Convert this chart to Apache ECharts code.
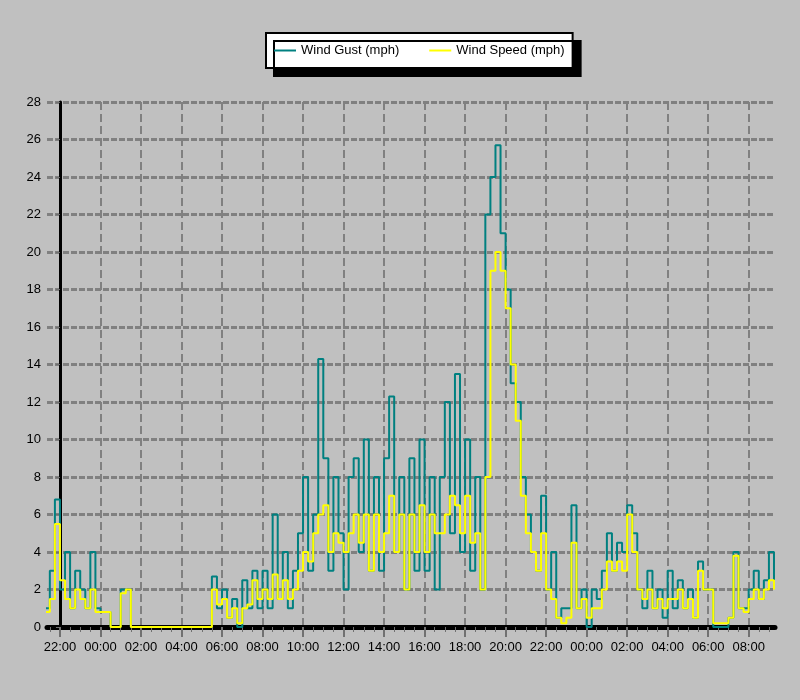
<!DOCTYPE html>
<html><head><meta charset="utf-8">
<script src="https://cdn.jsdelivr.net/npm/echarts@6/dist/echarts.min.js"></script>
<style>html,body{margin:0;padding:0;background:#c0c0c0}#c{width:800px;height:700px}</style>
</head><body><div id="c"></div>
<script>
// Time base: hours relative to 22:00 of the first day, 15-minute samples
const startHour = -0.75;
const stepHours = 0.25;
const windGust = [
 1,3,6.8,
 2,4,1,3,  2,1,4,1,  0.8,0.8,0,0,  2,2,0,0,
 0,0,0,0,  0,0,0,0,  0,0,0,0,  0,0,2.7,1,
 2,0.5,1.5,0,  2.5,1,3,1,  3,1,6,1.5,  4,1,3,5,
 8,3,6,14.3,  9,3,8,5,  2,8,9,4,  10,3,8,3,
 9,12.3,4,8,  2,9,3,10,  3,8,2,8,  12,5,13.5,4,
 10,3,8,2,  22,24,25.7,21,  18,13,12,8,  6,4,3,7,
 2,4,0.5,1,  1,6.5,1,2,  0,2,1.5,3,  5,3,4.5,4,
 6.5,5,2,1,  3,1,2,0.5,  3,1,2.5,1,  2,0.5,3.5,2,
 2,0,0,0,  0.5,4,1,1,  2,3,1.5,2.5,  4,2.5
];
const windSpeed = [
 0.8,1.5,5.5,
 2.5,1.5,1,2,  1.5,1,2,0.8,  0.8,0.8,0,0,  1.8,2,0,0,
 0,0,0,0,  0,0,0,0,  0,0,0,0,  0,0,2,1.2,
 1.5,0.5,1,0.2,  1,1.2,2.5,1.5,  2,1.5,2.8,1.5,  2.5,1.5,2,3,
 4,3.5,5,6,  6.5,4,5,4.5,  4,5,6,4.5,  6,3,6,4,
 5,7,4,6,  2,6,4,6.5,  4,6,5,5,  6,7,6.5,5,
 7,4.5,5,2,  8,19,20,19,  17,14,11,7,  5,4,3,5,
 2,1.5,0.5,0.2,  0.5,4.5,1,1.5,  0.5,1,1,2,  3.5,3,3.5,3,
 6,4,2,1.5,  2,1,1.5,1,  1.5,1.5,2,1,  1.5,0.5,3,2,
 2,0.2,0.2,0.2,  0.5,3.8,1,0.8,  1.5,2,1.5,2,  2.5,2
];
const seriesNames = ['Wind Gust (mph)', 'Wind Speed (mph)'];
const tickHours = [0,2,4,6,8,10,12,14,16,18,20,22,24,26,28,30,32,34];
const minorHours = [];
for (let h = -0.5; h < 35.3; h += 0.5) minorHours.push(h);

const toH = i => startHour + i*stepHours;
const gustData = windGust.map((v,i)=>[toH(i), v]);
const speedData = windSpeed.map((v,i)=>[toH(i), v]);
const fmt = h => { const hh = ((22 + h) % 24 + 24) % 24; return (hh<10?'0':'')+hh+':00'; };

const chart = echarts.init(document.getElementById('c'));
chart.setOption({
  backgroundColor:'#c0c0c0',
  animation:false,
  legend:{
    left:266, top:33, itemGap:30, padding:[11,8],
    backgroundColor:'#fff', borderColor:'#000', borderWidth:2,
    shadowColor:'#000', shadowOffsetX:8, shadowOffsetY:8, shadowBlur:0,
    itemWidth:22, itemHeight:2, icon:'rect',
    textStyle:{fontFamily:'Liberation Sans', fontSize:13, color:'#000'},
    data:seriesNames
  },
  grid:{left:47, right:25, top:102, bottom:73},
  xAxis:[{
    type:'value', min:-0.64, max:35.3,
    axisLine:{lineStyle:{color:'#000', width:5}},
    axisTick:{show:true, length:10, customValues:tickHours, lineStyle:{color:'#707070', width:2}},
    axisLabel:{customValues:tickHours, formatter:fmt, color:'#000', fontSize:13, fontFamily:'Liberation Sans', margin:14},
    splitLine:{show:true, lineStyle:{color:'#808080', type:'dashed', width:2}}
  },{
    type:'value', min:-0.64, max:35.3, position:'bottom',
    axisLine:{show:false},
    axisTick:{show:true, length:5, customValues:minorHours, lineStyle:{color:'#707070'}},
    axisLabel:{show:false}, splitLine:{show:false}
  }],
  yAxis:{
    type:'value', min:0, max:28, interval:2,
    axisLine:{show:true, lineStyle:{color:'#000', width:3}},
    axisTick:{show:true, length:4, lineStyle:{color:'#707070'}},
    axisLabel:{color:'#000', fontSize:13, fontFamily:'Liberation Sans', margin:6},
    splitLine:{show:true, lineStyle:{color:'#808080', type:[6,2], width:3}}
  },
  series:[
    {name:seriesNames[0], type:'line', step:'end', data:gustData, symbol:'none',
     color:'#008080', lineStyle:{width:2, color:'#008080'}, z:2},
    {name:seriesNames[1], type:'line', step:'end', data:speedData, symbol:'none',
     color:'#ffff00', lineStyle:{width:2, color:'#ffff00'}, z:3}
  ]
});
</script></body></html>
